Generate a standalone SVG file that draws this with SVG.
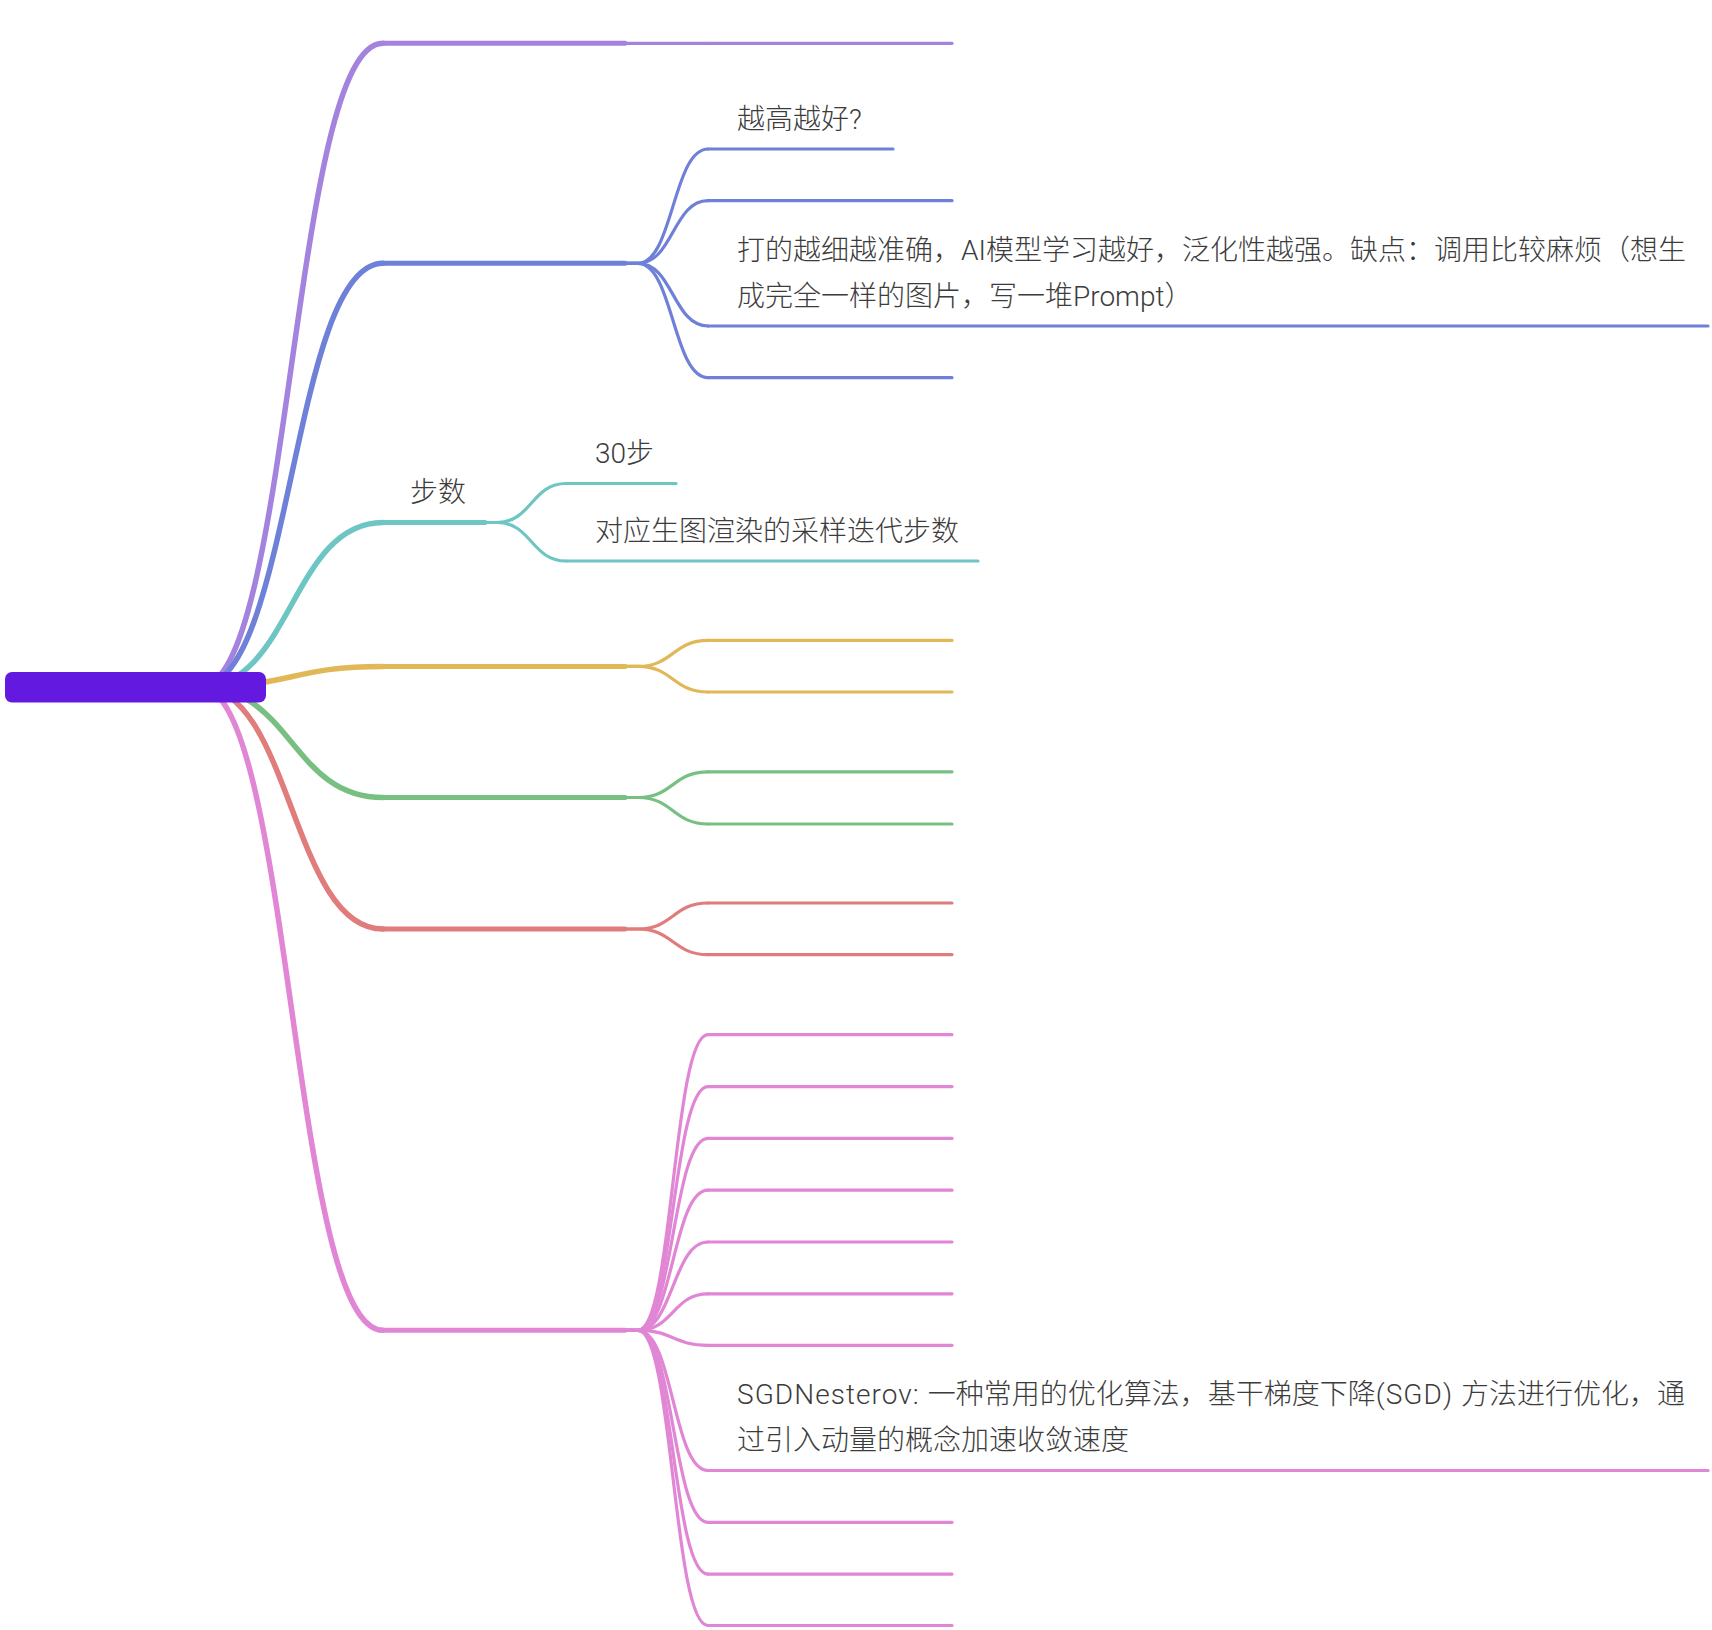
<svg xmlns="http://www.w3.org/2000/svg" width="1712" height="1630" viewBox="0 0 1712 1630">
<style>
  .t { font-family: "Roboto", "Noto Sans CJK SC", sans-serif; font-size: 28px; font-weight: 300; fill: #3c3c3c; }
  .ls { letter-spacing: 1.05px; }
  .m { fill: none; stroke-width: 5.5; stroke-linecap: round; }
  .c { fill: none; stroke-width: 3.2; stroke-linecap: round; }
  .u { fill: none; stroke-width: 3.2; stroke-linecap: round; }
  .um { fill: none; stroke-width: 5; stroke-linecap: round; }
  .purple { stroke: #a383dd; }
  .blue { stroke: #6e80d8; }
  .teal { stroke: #6ec6c4; }
  .yellow { stroke: #e0b858; }
  .green { stroke: #78c082; }
  .red { stroke: #e17c7c; }
  .pink { stroke: #e185d5; }
</style>
<rect width="1712" height="1630" fill="#ffffff"/>
<g id="connectors">
  <path class="m purple" d="M200 687 C291.5 687 291.5 43.3 383 43.3"/>
  <path class="m blue" d="M200 687 C291.5 687 291.5 263.3 383 263.3"/>
  <path class="m teal" d="M200 687 C291.5 687 291.5 522.5 383 522.5"/>
  <path class="m yellow" d="M200 687 C291.5 687 291.5 666.4 383 666.4"/>
  <path class="m green" d="M200 687 C291.5 687 291.5 797.5 383 797.5"/>
  <path class="m red" d="M200 687 C291.5 687 291.5 929 383 929"/>
  <path class="m pink" d="M200 687 C291.5 687 291.5 1330.3 383 1330.3"/>
  <path class="c purple" d="M625 43.3 L708 43.3"/>
  <path class="c blue" d="M625 263.3 L638 263.3 C673 263.3 673 149 708 149"/>
  <path class="c blue" d="M625 263.3 L638 263.3 C673 263.3 673 200.7 708 200.7"/>
  <path class="c blue" d="M625 263.3 L638 263.3 C673 263.3 673 326 708 326"/>
  <path class="c blue" d="M625 263.3 L638 263.3 C673 263.3 673 377.7 708 377.7"/>
  <path class="c teal" d="M485 522.5 L497 522.5 C531.5 522.5 531.5 483.5 566 483.5"/>
  <path class="c teal" d="M485 522.5 L497 522.5 C531.5 522.5 531.5 561 566 561"/>
  <path class="c yellow" d="M625 666.4 L638 666.4 C673 666.4 673 640.4 708 640.4"/>
  <path class="c yellow" d="M625 666.4 L638 666.4 C673 666.4 673 692 708 692"/>
  <path class="c green" d="M625 797.5 L638 797.5 C673 797.5 673 771.8 708 771.8"/>
  <path class="c green" d="M625 797.5 L638 797.5 C673 797.5 673 824 708 824"/>
  <path class="c red" d="M625 929 L638 929 C673 929 673 903 708 903"/>
  <path class="c red" d="M625 929 L638 929 C673 929 673 954.6 708 954.6"/>
  <path class="c pink" d="M625 1330.3 L638 1330.3 C673 1330.3 673 1034.7 708 1034.7"/>
  <path class="c pink" d="M625 1330.3 L638 1330.3 C673 1330.3 673 1086.6 708 1086.6"/>
  <path class="c pink" d="M625 1330.3 L638 1330.3 C673 1330.3 673 1138.4 708 1138.4"/>
  <path class="c pink" d="M625 1330.3 L638 1330.3 C673 1330.3 673 1190.2 708 1190.2"/>
  <path class="c pink" d="M625 1330.3 L638 1330.3 C673 1330.3 673 1242 708 1242"/>
  <path class="c pink" d="M625 1330.3 L638 1330.3 C673 1330.3 673 1293.8 708 1293.8"/>
  <path class="c pink" d="M625 1330.3 L638 1330.3 C673 1330.3 673 1345.3 708 1345.3"/>
  <path class="c pink" d="M625 1330.3 L638 1330.3 C673 1330.3 673 1470.5 708 1470.5"/>
  <path class="c pink" d="M625 1330.3 L638 1330.3 C673 1330.3 673 1522.3 708 1522.3"/>
  <path class="c pink" d="M625 1330.3 L638 1330.3 C673 1330.3 673 1574.1 708 1574.1"/>
  <path class="c pink" d="M625 1330.3 L638 1330.3 C673 1330.3 673 1625.5 708 1625.5"/>
</g>
<g id="root">
  <rect x="5" y="672" width="261" height="30.5" rx="7" fill="#6419e0"/>
</g>
<g id="node-purple"><path class="um purple" d="M383 43.3 L625 43.3"/></g>
<g id="node-blue"><path class="um blue" d="M383 263.3 L625 263.3"/></g>
<g id="node-teal"><path class="um teal" d="M383 522.5 L485 522.5"/><text class="t" x="410" y="502">步数</text></g>
<g id="node-yellow"><path class="um yellow" d="M383 666.4 L625 666.4"/></g>
<g id="node-green"><path class="um green" d="M383 797.5 L625 797.5"/></g>
<g id="node-red"><path class="um red" d="M383 929 L625 929"/></g>
<g id="node-pink"><path class="um pink" d="M383 1330.3 L625 1330.3"/></g>
<g id="purple-1"><path class="u purple" d="M708 43.3 L952 43.3"/></g>
<g id="blue-1"><path class="u blue" d="M708 149 L893 149"/><text class="t" x="737" y="128.5">越高越好?</text></g>
<g id="blue-2"><path class="u blue" d="M708 200.7 L952 200.7"/></g>
<g id="blue-3"><path class="u blue" d="M708 326 L1708 326"/><text class="t" x="737" y="259.5">打的越细越准确，AI模型学习越好，泛化性越强。缺点：调用比较麻烦（想生</text><text class="t" x="737" y="305.5">成完全一样的图片，写一堆Prompt）</text></g>
<g id="blue-4"><path class="u blue" d="M708 377.7 L952 377.7"/></g>
<g id="teal-1"><path class="u teal" d="M566 483.5 L676 483.5"/><text class="t" x="595" y="463">30步</text></g>
<g id="teal-2"><path class="u teal" d="M566 561 L978 561"/><text class="t" x="595" y="540.5">对应生图渲染的采样迭代步数</text></g>
<g id="yellow-1"><path class="u yellow" d="M708 640.4 L952 640.4"/></g>
<g id="yellow-2"><path class="u yellow" d="M708 692 L952 692"/></g>
<g id="green-1"><path class="u green" d="M708 771.8 L952 771.8"/></g>
<g id="green-2"><path class="u green" d="M708 824 L952 824"/></g>
<g id="red-1"><path class="u red" d="M708 903 L952 903"/></g>
<g id="red-2"><path class="u red" d="M708 954.6 L952 954.6"/></g>
<g id="pink-1"><path class="u pink" d="M708 1034.7 L952 1034.7"/></g>
<g id="pink-2"><path class="u pink" d="M708 1086.6 L952 1086.6"/></g>
<g id="pink-3"><path class="u pink" d="M708 1138.4 L952 1138.4"/></g>
<g id="pink-4"><path class="u pink" d="M708 1190.2 L952 1190.2"/></g>
<g id="pink-5"><path class="u pink" d="M708 1242 L952 1242"/></g>
<g id="pink-6"><path class="u pink" d="M708 1293.8 L952 1293.8"/></g>
<g id="pink-7"><path class="u pink" d="M708 1345.3 L952 1345.3"/></g>
<g id="pink-8"><path class="u pink" d="M708 1470.5 L1708 1470.5"/><text class="t" x="737" y="1403.5"><tspan class="ls">SGDNesterov: </tspan>一种常用的优化算法，基干梯度下降<tspan class="ls">(SGD) </tspan>方法进行优化，通</text><text class="t" x="737" y="1449.5">过引入动量的概念加速收敛速度</text></g>
<g id="pink-9"><path class="u pink" d="M708 1522.3 L952 1522.3"/></g>
<g id="pink-10"><path class="u pink" d="M708 1574.1 L952 1574.1"/></g>
<g id="pink-11"><path class="u pink" d="M708 1625.5 L952 1625.5"/></g>
</svg>
